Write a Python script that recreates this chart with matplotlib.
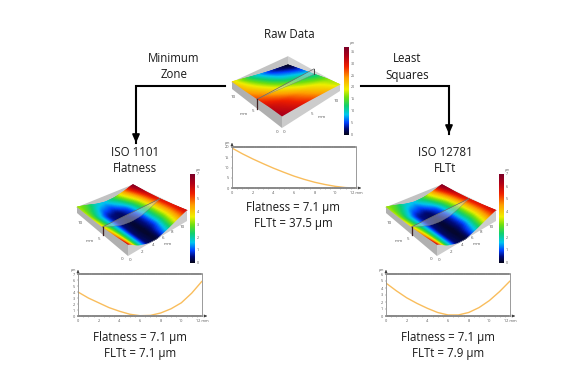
import numpy as np
import matplotlib
matplotlib.use("Agg")
import matplotlib.pyplot as plt
from matplotlib.colors import LinearSegmentedColormap
from matplotlib.patches import Polygon

plt.rcParams['font.family'] = ['Open Sans', 'DejaVu Sans']

# ---- data ----
grid_x = [0, 2, 4, 6, 8, 10, 12]
grid_y = [0, 3, 6, 9, 12]
raw_z = [[34, 32.5, 30.5, 28, 25, 22, 18.5],
         [32, 30, 27.5, 24.5, 21.5, 19, 16.5],
         [27.5, 25, 22, 19, 16, 13.5, 11],
         [23.5, 20.5, 17, 13, 9.5, 7.5, 5.5],
         [21, 16.5, 12, 8, 4.5, 2, 0]]
flat_z = [[6.5, 2.5, 0.4, 0.1, 1.8, 4.0, 6.0],
          [5.2, 2.4, 0.4, 0.05, 0.9, 3.2, 5.8],
          [4.1, 2.2, 0.5, 0.1, 0.8, 3.0, 5.8],
          [3.6, 1.9, 0.6, 0.4, 1.1, 3.3, 6.2],
          [3.3, 2.8, 1.9, 1.6, 2.6, 4.5, 7.0]]
prof_x = [0, 1, 2, 3, 4, 5, 6, 7, 8, 9, 10, 11, 12]
raw_prof = [19.5, 16.7, 14.2, 11.9, 9.7, 7.7, 5.8, 4.2, 2.8, 1.7, 0.8, 0.2, 0.0]
min_prof = [4.0, 3.0, 2.2, 1.4, 0.8, 0.3, 0.05, 0.1, 0.5, 1.2, 2.2, 3.8, 5.8]
ls_prof = [4.7, 3.6, 2.6, 1.8, 1.1, 0.5, 0.15, 0.15, 0.5, 1.2, 2.2, 3.5, 5.0]
raw_ticks = [0, 5, 10, 15, 20]
min_ticks = [0, 1, 2, 3, 4, 5, 6, 7]
ls_ticks = [0, 1, 2, 3, 4, 5, 6]
x_ticks = [0, 2, 4, 6, 8, 10, 12]
raw_cbar = [0, 5, 10, 15, 20, 25, 30, 35]
flat_cbar = [0, 1, 2, 3, 4, 5, 6, 7]

W, H = 570, 380
cmap = LinearSegmentedColormap.from_list("sens", [
    (0.00, "#05051a"), (0.07, "#000a78"), (0.14, "#0040ff"), (0.23, "#00c8f0"),
    (0.33, "#10d070"), (0.43, "#70e010"), (0.52, "#f0f000"), (0.65, "#ffa000"),
    (0.78, "#f02000"), (0.90, "#b00018"), (1.00, "#7a0028")])

fig = plt.figure(figsize=(W / 100, H / 100), dpi=100, facecolor="white")
bg = fig.add_axes([0, 0, 1, 1])
bg.set_xlim(0, W)
bg.set_ylim(H, 0)
bg.axis("off")


def smooth(a, n=5):
    kern = np.ones(n) / n
    pad = n // 2
    a = np.pad(a, pad, mode="edge")
    a = np.apply_along_axis(lambda m: np.convolve(m, kern, mode="same"), 0, a)
    a = np.apply_along_axis(lambda m: np.convolve(m, kern, mode="same"), 1, a)
    return a[pad:-pad, pad:-pad]


def surface(corners, k, drop, zmax, z, wall_h, sec_top, labels):
    """corners: floor px of front, right, back, left; k: px per z unit."""
    f, r, b, l = [np.array(c, float) for c in corners]
    gx, gy = np.array(grid_x, float), np.array(grid_y, float)
    Z = np.array(z, float)
    fx = np.linspace(0, 12, 61)
    fy = np.linspace(0, 12, 61)
    Zi = np.array([np.interp(fx, gx, row) for row in Z])
    Zf = smooth(np.array([np.interp(fy, gy, col) for col in Zi.T]).T)
    X, Y = np.meshgrid(fx, fy)
    u, v = X / 12, Y / 12

    def proj(u, v, zz):
        px = (1-u)*(1-v)*f[0] + u*(1-v)*r[0] + u*v*b[0] + (1-u)*v*l[0]
        py = (1-u)*(1-v)*f[1] + u*(1-v)*r[1] + u*v*b[1] + (1-u)*v*l[1]
        return px, py - k*zz

    def wall(pts_top, pts_bot, color, zo):
        poly = np.vstack([pts_top, pts_bot[::-1]])
        bg.add_patch(Polygon(poly, closed=True, fc=color, ec="none", zorder=zo))

    # back walls: tops run straight from each side corner to the back corner
    for ua, va, zside, col in ((np.array([0., 1.]), np.array([1., 1.]), Zf[-1, 0], "#c2c2c2"),
                               (np.array([1., 1.]), np.array([0., 1.]), Zf[0, -1], "#d2d2d2")):
        zt = np.array([zside, wall_h])
        a = np.column_stack(proj(ua, va, zt))
        c = np.column_stack(proj(ua, va, np.zeros(2)))
        wall(a, c, col, 1)
    # surface
    PX, PY = proj(u, v, Zf)
    bg.pcolormesh(PX, PY, Zf, cmap=cmap, vmin=0, vmax=zmax, shading="gouraud", zorder=2)
    # front walls
    pfl = np.column_stack(proj(np.zeros(61), fy / 12, Zf[:, 0]))
    bfl = np.column_stack(proj(np.zeros(61), fy / 12, np.zeros(61)))
    bfl[:, 1] += drop * (1 - fy / 12)
    wall(pfl, bfl, "#b0b0b0", 3)
    pfr = np.column_stack(proj(fx / 12, np.zeros(61), Zf[0, :]))
    bfr = np.column_stack(proj(fx / 12, np.zeros(61), np.zeros(61)))
    bfr[:, 1] += drop * (1 - fx / 12)
    wall(pfr, bfr, "#cccccc", 3)
    # section plane at y = 6 mm
    j = 30
    ztop = sec_top[0] + (sec_top[1] - sec_top[0]) * fx / 12
    top = np.column_stack(proj(fx / 12, np.full(61, .5), ztop))
    sec = np.column_stack(proj(fx / 12, np.full(61, .5), Zf[j, :]))
    bg.add_patch(Polygon(np.vstack([top, sec[::-1]]), closed=True, fc="#d0d4d8",
                         ec="none", alpha=.45, zorder=4))
    bg.plot(top[:, 0], top[:, 1], color="#666666", lw=.5, zorder=5)
    bg.plot(sec[:, 0], sec[:, 1], color="#777777", lw=.25, zorder=5)
    low = np.column_stack(proj(fx / 12, np.full(61, .5), np.zeros(61)))
    bg.plot([top[0, 0], low[0, 0]], [top[0, 1], low[0, 1]], color="#402020", lw=.9, zorder=5)
    bg.plot([top[-1, 0], sec[-1, 0]], [top[-1, 1], sec[-1, 1]], color="#444444", lw=.7, zorder=5)
    for (x, y, s) in labels:
        bg.text(x, y, s, fontsize=3.2, color="#555555", ha="center", va="center")


def colorbar(x0, x1, y0, y1, vmax, ticks):
    ramp = np.linspace(1, 0, 256)[:, None]
    bg.imshow(ramp, cmap=cmap, vmin=0, vmax=1, extent=(x0, x1, y1, y0), aspect="auto", zorder=2)
    for t in ticks:
        bg.text(x1 + 2, y1 - (y1 - y0) * t / vmax, str(t), fontsize=2.6,
                color="#555555", va="center", ha="left")
    bg.text(x1 + 1, y0 - 4, "µm", fontsize=2.4, color="#555555", va="center", ha="left")
    bg.set_xlim(0, W)
    bg.set_ylim(H, 0)


def profile(x0, x1, y0, y1, vals, ymax, ticks):
    ax = fig.add_axes([x0 / W, 1 - y1 / H, (x1 - x0) / W, (y1 - y0) / H])
    ax.plot(prof_x, vals, color="#f9bd5c", lw=1.0, solid_capstyle="round")
    ax.set_xlim(0, 12)
    ax.set_ylim(0, ymax)
    ax.set_xticks(x_ticks)
    ax.set_yticks(ticks)
    ax.set_xticks(np.arange(0, 12.01, 0.5), minor=True)
    ax.tick_params(which="both", length=1, width=.3, color="#666666", labelsize=2.8,
                   labelcolor="#555555", pad=1, direction="out")
    ax.tick_params(which="minor", length=.7)
    ax.set_xticklabels([str(t) for t in x_ticks[:-1]] + ["12 mm"])
    for name, s in ax.spines.items():
        s.set_color("#8a8a8a")
        if name in ("top", "bottom"):
            s.set_linewidth(1.2)
            s.set_linestyle((0, (.7, .4)))
        else:
            s.set_linewidth(.6)
    bg.annotate("", xy=(x1 + 8, y1), xytext=(x1, y1),
                arrowprops=dict(arrowstyle="-|>,head_width=.08,head_length=.18", lw=.4, color="#333333"))
    bg.annotate("", xy=(x0, y0 - 7), xytext=(x0, y0),
                arrowprops=dict(arrowstyle="-|>,head_width=.08,head_length=.18", lw=.4, color="#333333"))
    bg.text(x0 - 5, y0 - 4, "µm", fontsize=2.6, color="#555555", ha="center", va="center")


# surfaces
surface([(282, 128), (340, 91), (288, 65), (232, 89)], .34, 0, 37, raw_z, 26, (27, 27),
        [(233, 97, "10"), (244, 114, "mm"), (253, 111, "5"), (277, 132, "0"),
         (284, 132, "0"), (312, 114, "5"), (322, 117, "mm"), (336, 101, "10")])
flat_labels = [(80, 223, "10"), (90, 241, "mm"), (99, 239, "5"), (122, 259, "0"),
               (130, 260, "0"), (142, 252, "2"), (153, 245, "4"), (163, 238, "6"),
               (172, 232, "8"), (182, 227, "10"), (168, 244, "mm")]
surface([(128, 256), (187, 221), (133, 197), (77, 213)], 1.8, 0, 7, flat_z, 7, (4.2, 5.8), flat_labels)
surface([(437, 256), (496, 221), (442, 197), (386, 213)], 1.8, 0, 7, flat_z, 7, (4.2, 5.8),
        [(x + 309, y, s) for x, y, s in flat_labels])

colorbar(344, 349, 47, 135, 37, raw_cbar)
colorbar(190, 195, 174, 263, 7, flat_cbar)
colorbar(499, 504, 174, 263, 7, flat_cbar)

profile(232, 356, 147, 188, raw_prof, 20, raw_ticks)
profile(78, 202, 274, 316, min_prof, 7, min_ticks)
profile(386, 510, 274, 316, ls_prof, 6, ls_ticks)

# flow arrows
for xs, ys in (([225, 136, 136], [86, 86, 143]), ([361, 449, 449], [86, 86, 134])):
    bg.plot(xs, ys, color="black", lw=1.5, solid_joinstyle="miter", zorder=6)
    bg.annotate("", xy=(xs[2], ys[2]), xytext=(xs[2], ys[2] - 10),
                arrowprops=dict(arrowstyle="-|>,head_width=.22,head_length=.5", lw=1.2,
                                color="black", shrinkA=0, shrinkB=0), zorder=6)

# captions
caption = dict(fontsize=8.3, color="#1a1a1a", ha="center", va="center", linespacing=1.3)
bg.text(289, 35, "Raw Data", **caption)
bg.text(174, 67, "Minimum\nZone", **caption)
bg.text(407, 67, "Least\nSquares", **caption)
bg.text(135, 160, "ISO 1101\nFlatness", **caption)
bg.text(445, 160, "ISO 12781\nFLTt", **caption)
bg.text(293, 215, "Flatness = 7.1 µm\nFLTt = 37.5 µm", **caption)
bg.text(140, 346, "Flatness = 7.1 µm\nFLTt = 7.1 µm", **caption)
bg.text(448, 346, "Flatness = 7.1 µm\nFLTt = 7.9 µm", **caption)

fig.savefig("out.png", dpi=100, facecolor="white")
